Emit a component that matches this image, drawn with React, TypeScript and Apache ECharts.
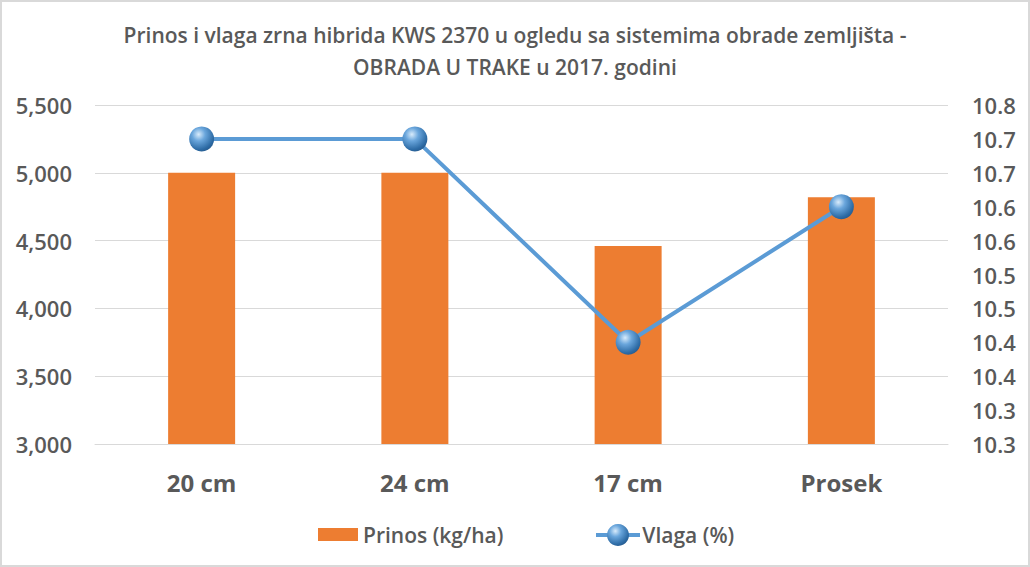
import React, { useEffect, useRef } from "react";
import * as echarts from "echarts";

const titleText =
  "Prinos i vlaga zrna hibrida KWS 2370 u ogledu sa sistemima obrade zemljišta -\nOBRADA U TRAKE u 2017. godini";
const categories = ["20 cm", "24 cm", "17 cm", "Prosek"];
const prinos = [5000, 5000, 4460, 4820];
const vlaga = [10.75, 10.75, 10.45, 10.65];
const leftMin = 3000;
const leftMax = 5500;
const leftStep = 500;
const rightMin = 10.3;
const rightMax = 10.8;
const rightStep = 0.05;
const rightTickLabels = ["10.3", "10.3", "10.4", "10.4", "10.5", "10.5", "10.6", "10.6", "10.7", "10.7", "10.8"];

const FONT = "Open Sans";
const TEXT = "#595959";

export default function App() {
  const ref = useRef<HTMLDivElement>(null);
  useEffect(() => {
    if (!ref.current) return;
    const chart = echarts.init(ref.current, undefined, { renderer: "svg" });
    const sphere = () =>
      new echarts.graphic.RadialGradient(0.38, 0.32, 0.75, [
        { offset: 0, color: "#d8ebfb" },
        { offset: 0.35, color: "#6aa6dc" },
        { offset: 0.8, color: "#2e6ca6" },
        { offset: 1, color: "#24578a" },
      ]);
    chart.setOption({
      animation: false,
      backgroundColor: "#ffffff",
      textStyle: { fontFamily: FONT },
      title: {
        text: titleText,
        left: "center",
        top: 14,
        textStyle: {
          fontFamily: FONT,
          fontSize: 21,
          fontWeight: 600,
          color: TEXT,
          lineHeight: 32,
        },
      },
      graphic: [
        {
          type: "rect",
          shape: { x: 1, y: 1, width: 1028, height: 565 },
          style: { fill: "none", stroke: "#d9d9d9", lineWidth: 2 },
          silent: true,
        },
        {
          type: "line",
          shape: { x1: 596, y1: 535, x2: 640, y2: 535 },
          style: { stroke: "#5b9bd5", lineWidth: 4 },
          silent: true,
          z: 100,
        },
        {
          type: "circle",
          shape: { cx: 618, cy: 535, r: 11 },
          style: { fill: sphere() },
          silent: true,
          z: 101,
        },
      ],
      legend: {
        bottom: 22,
        left: 318,
        padding: 0,
        itemGap: 94,
        itemWidth: 40,
        itemHeight: 13,
        textStyle: { fontFamily: FONT, fontSize: 21, fontWeight: 600, color: TEXT },
        data: [
          { name: "Prinos (kg/ha)", icon: "rect" },
          { name: "Vlaga (%)", icon: "rect", itemStyle: { opacity: 0 } },
        ],
      },
      grid: { left: 95, right: 82, top: 105, bottom: 123 },
      xAxis: {
        type: "category",
        data: categories,
        axisLine: { show: true, lineStyle: { color: "#d9d9d9", width: 1 } },
        axisTick: { show: false },
        axisLabel: {
          color: TEXT,
          fontFamily: FONT,
          fontSize: 24,
          fontWeight: "bold",
          margin: 26,
        },
      },
      yAxis: [
        {
          type: "value",
          min: leftMin,
          max: leftMax,
          interval: leftStep,
          axisLine: { show: false },
          axisTick: { show: false },
          splitLine: { lineStyle: { color: "#d9d9d9", width: 1 } },
          axisLabel: {
            color: TEXT,
            fontFamily: FONT,
            fontSize: 22,
            fontWeight: 600,
            margin: 23,
            formatter: (v: number) => v.toLocaleString("en-US"),
          },
        },
        {
          type: "value",
          min: rightMin,
          max: rightMax,
          interval: rightStep,
          axisLine: { show: false },
          axisTick: { show: false },
          splitLine: { show: false },
          axisLabel: {
            color: TEXT,
            fontFamily: FONT,
            fontSize: 22,
            fontWeight: 600,
            margin: 24,
            formatter: (v: number) =>
              rightTickLabels[Math.round((v - rightMin) / rightStep)] ?? "",
          },
        },
      ],
      series: [
        {
          name: "Prinos (kg/ha)",
          type: "bar",
          data: prinos,
          barWidth: 67,
          itemStyle: { color: "#ed7d31" },
        },
        {
          name: "Vlaga (%)",
          type: "line",
          yAxisIndex: 1,
          data: vlaga,
          symbol: "circle",
          symbolSize: 25,
          lineStyle: { color: "#5b9bd5", width: 4 },
          itemStyle: { color: sphere(), borderWidth: 0 },
          z: 3,
        },
      ],
    });
    return () => chart.dispose();
  }, []);
  return (
    <div
      ref={ref}
      style={{ position: "fixed", left: 0, top: 0, width: 1030, height: 567 }}
    />
  );
}
